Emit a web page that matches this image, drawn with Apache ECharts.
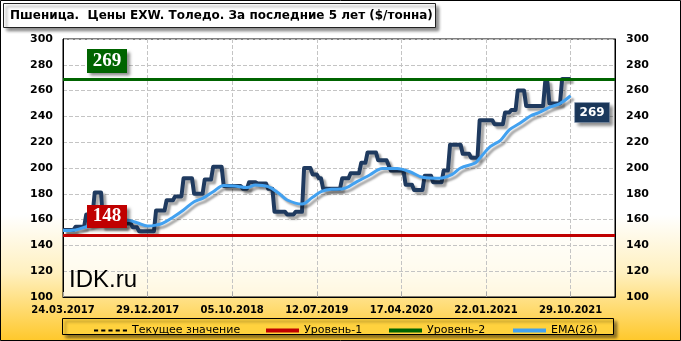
<!DOCTYPE html>
<html><head><meta charset="utf-8">
<script src="https://cdn.jsdelivr.net/npm/echarts@6/dist/echarts.min.js"></script>
<style>html,body{margin:0;padding:0;background:#fff}#c{width:681px;height:341px}</style>
</head><body><div id="c"></div>
<script>
const titleText = 'Пшеница.  Цены EXW. Толедо. За последние 5 лет ($/тонна)';
const watermark = 'IDK.ru';
const startDate = '2017-03-24';
const categoryCount = 262;
const labelEvery = 40;
const seriesNames = ['Текущее значение', 'Уровень-1', 'Уровень-2', 'EMA(26)', 'Цена'];
const level1 = 148;
const level2 = 269;
const currentValue = 269;
const priceValues = [
152,152,152,152,152,152,
154.5,154.5,154.5,154.5,154.5,
164,164,164,164,
181,181,181,181,
155,155,155,155,155,155,155,155,155,155,155,
157,157,157,
154,154,154,
151,151,151,151,151,151,151,151,
167,167,167,167,167,
175,175,175,175,
178,178,178,178,
192,192,192,192,192,
180,180,180,180,180,
191,191,191,191,
201,201,201,201,201,
186,186,186,186,186,186,186,186,186,
184,184,184,
189,189,189,189,
188,188,188,188,188,
184,184,184,
166,166,166,166,166,166,
164,164,164,164,
166,166,166,166,
200,200,200,200,
195,195,195,
192,192,
184,184,184,184,184,184,184,184,184,
192,192,192,192,
196,196,196,196,196,
204,204,204,
212,212,212,212,212,
206,206,206,206,206,
202,
198,198,198,198,198,198,198,
187,187,187,187,
183,183,183,183,183,
194,194,194,194,
189,189,189,189,189,
198,198,198,
218,218,218,218,218,218,
211,211,211,211,
208,208,208,208,
237,237,237,237,237,237,237,
234,234,234,234,234,
243,243,243,
245,245,245,
260,260,260,260,
248,248,248,248,248,248,248,248,248,
267,267,
250,250,250,250,250,250,
269,269,269,269,269
];
const emaPoints = [
[0,151.5],[6,152],[11,154.5],[16,157],[22,159],[30,159.7],[35,157.6],[40,155],[44,155.7],[47,157],
[52,161.8],[57,167.4],[62,173.9],[66,176.5],[71,181.6],[76,186.5],[81,186],[87,184.8],[91,186.8],
[97,185.5],[102,180.4],[106,175.2],[113,172],[118,177.3],[122,181.6],[127,183.5],[132,183.7],
[139,189.4],[145,194.6],[151,199.7],[158,199.7],[164,197.1],[170,192.8],[178,192],[184,195],
[188,200],[195,204],[197,207.5],[202,216.5],[207,221.7],[211,229.5],[216,234.6],[221,240.3],
[225,242.9],[230,247],[235,250],[240,256]
];

function pad(n){return n<10?'0'+n:''+n;}
const categories = [];
{
  const t0 = Date.parse(startDate + 'T00:00:00Z');
  for (let i = 0; i < categoryCount; i++) {
    const d = new Date(t0 + i * 7 * 86400000);
    categories.push(pad(d.getUTCDate()) + '.' + pad(d.getUTCMonth() + 1) + '.' + d.getUTCFullYear());
  }
}

const chart = echarts.init(document.getElementById('c'), null, {renderer: 'canvas'});
const lineShadow = {shadowColor: 'rgba(0,0,0,0.35)', shadowBlur: 2, shadowOffsetX: 3, shadowOffsetY: 3};
const axisFont = {fontFamily: 'DejaVu Sans', fontWeight: 'bold', fontSize: 11, color: '#000'};
const legendText = {fontFamily: 'DejaVu Sans', fontSize: 11, color: '#000'};
const dashIcon = 'path://M0,0h4v2h-4zM7,0h4v2h-4zM14,0h4v2h-4zM21,0h4v2h-4zM28,0h4v2h-4z';

const option = {
  animation: false,
  grid: {left: 63, top: 39, width: 552, height: 258, show: true, borderColor: '#000', borderWidth: 1, backgroundColor: 'rgba(255,255,255,0.72)'},
  xAxis: {
    type: 'category', data: categories, boundaryGap: false,
    axisLine: {show: true, lineStyle: {color: '#000'}},
    axisTick: {show: true, inside: true, interval: labelEvery - 1, length: 5, lineStyle: {color: '#aaa'}},
    axisLabel: Object.assign({}, axisFont, {fontSize: 10, interval: labelEvery - 1, margin: 8}),
    splitLine: {show: true, interval: labelEvery - 1, lineStyle: {type: 'dashed', color: '#c4c4c4'}}
  },
  yAxis: [
    {type: 'value', min: 100, max: 300, interval: 20, position: 'left',
     axisLine: {show: true, lineStyle: {color: '#000'}}, axisTick: {show: false},
     axisLabel: Object.assign({}, axisFont, {margin: 10}),
     splitLine: {show: true, lineStyle: {type: 'dashed', color: '#c4c4c4'}}},
    {type: 'value', min: 100, max: 300, interval: 20, position: 'right',
     axisLine: {show: true, lineStyle: {color: '#000'}}, axisTick: {show: false},
     axisLabel: Object.assign({}, axisFont, {margin: 11}),
     splitLine: {show: false}}
  ],
  legend: [
    {left: 89, top: 320, itemWidth: 33, itemHeight: 2, icon: dashIcon, symbolKeepAspect: false, textStyle: legendText, data: [seriesNames[0]]},
    {left: 261, top: 320, itemWidth: 33, itemHeight: 4, icon: 'rect', textStyle: legendText, data: [seriesNames[1]]},
    {left: 384, top: 320, itemWidth: 33, itemHeight: 4, icon: 'rect', textStyle: legendText, data: [seriesNames[2]]},
    {left: 508, top: 320, itemWidth: 33, itemHeight: 4, icon: 'rect', textStyle: legendText, data: [seriesNames[3]]}
  ],
  series: [
    {name: seriesNames[0], type: 'line', data: [], symbol: 'none', z: 1,
     itemStyle: {color: '#000'},
     lineStyle: {color: '#000', type: 'dashed', width: 1},
     markLine: {silent: true, symbol: 'none', label: {show: false}, animation: false,
       lineStyle: {color: '#000', type: 'dashed', width: 1}, data: [{yAxis: currentValue}]}},
    {name: seriesNames[1], type: 'line', data: [], symbol: 'none', z: 2,
     itemStyle: {color: '#c00000'},
     lineStyle: {color: '#c00000', width: 4},
     markLine: {silent: true, symbol: 'none', label: {show: false}, animation: false,
       lineStyle: {color: '#c00000', type: 'solid', width: 3}, data: [{yAxis: level1}]}},
    {name: seriesNames[2], type: 'line', data: [], symbol: 'none', z: 2,
     itemStyle: {color: '#006400'},
     lineStyle: {color: '#006400', width: 4},
     markLine: {silent: true, symbol: 'none', label: {show: false}, animation: false,
       lineStyle: {color: '#006400', type: 'solid', width: 3}, data: [{yAxis: level2}]}},
    {name: seriesNames[4], type: 'line', data: priceValues, symbol: 'none', z: 3,
     itemStyle: {color: '#1f3a5f'},
     lineStyle: Object.assign({color: '#1f3a5f', width: 4, join: 'round'}, lineShadow)},
    {name: seriesNames[3], type: 'line', data: emaPoints, symbol: 'none', smooth: 0.35, z: 4,
     itemStyle: {color: '#42a1f0'},
     lineStyle: Object.assign({color: '#42a1f0', width: 3}, lineShadow)}
  ]
};
chart.setOption(option);

const yL1 = chart.convertToPixel({yAxisIndex: 0}, level1);
const yL2 = chart.convertToPixel({yAxisIndex: 0}, level2);
const xEnd = chart.convertToPixel({xAxisIndex: 0}, priceValues.length - 1);
const boxShadow = {shadowColor: 'rgba(0,0,0,0.45)', shadowBlur: 3, shadowOffsetX: 3, shadowOffsetY: 3};

chart.setOption({
  graphic: [
    {type: 'rect', silent: true, z: -20, shape: {x: 0.5, y: 0.5, width: 680, height: 340},
     style: {fill: {type: 'linear', x: 0, y: 0, x2: 0, y2: 1, colorStops: [
       {offset: 0, color: '#ffffff'}, {offset: 0.63, color: '#ffffff'}, {offset: 0.8, color: '#fff0bf'}, {offset: 1, color: '#ffc82a'}]},
       stroke: '#000', lineWidth: 1}},
    {type: 'rect', silent: true, z: -5, shape: {x: 3.5, y: 3.5, width: 432, height: 24},
     style: Object.assign({fill: '#fff', stroke: '#222', lineWidth: 1}, boxShadow)},
    {type: 'text', silent: true, z: 10, x: 10, y: 16,
     style: {text: titleText, fill: '#000', font: 'bold 12px "DejaVu Sans"', textVerticalAlign: 'middle'}},
    {type: 'text', silent: true, z: 1, x: 69, y: 280,
     style: {text: watermark, fill: '#000', font: '24px "Liberation Sans"', textVerticalAlign: 'middle'}},
    {type: 'rect', silent: true, z: -5, shape: {x: 62.5, y: 318.5, width: 551, height: 16},
     style: Object.assign({fill: '#ffd23e', stroke: '#000', lineWidth: 1}, boxShadow)},
    {type: 'rect', silent: true, z: 20, shape: {x: 87, y: yL2 - 30, width: 40, height: 24},
     style: Object.assign({fill: '#006400'}, boxShadow)},
    {type: 'text', silent: true, z: 21, x: 107, y: yL2 - 18,
     style: {text: String(level2), fill: '#fff', font: 'bold 19px "Liberation Serif"', textAlign: 'center', textVerticalAlign: 'middle'}},
    {type: 'rect', silent: true, z: 20, shape: {x: 87, y: yL1 - 30, width: 40, height: 23},
     style: Object.assign({fill: '#c00000'}, boxShadow)},
    {type: 'text', silent: true, z: 21, x: 107, y: yL1 - 18.5,
     style: {text: String(level1), fill: '#fff', font: 'bold 19px "Liberation Serif"', textAlign: 'center', textVerticalAlign: 'middle'}},
    {type: 'rect', silent: true, z: 20, shape: {x: xEnd + 4, y: 102.5, width: 35, height: 20},
     style: Object.assign({fill: '#1c3a5e', stroke: '#8fa0b8', lineWidth: 0.5}, boxShadow)},
    {type: 'text', silent: true, z: 21, x: xEnd + 21.5, y: 113,
     style: {text: String(priceValues[priceValues.length - 1]), fill: '#fff', font: 'bold 12px "DejaVu Sans"', textAlign: 'center', textVerticalAlign: 'middle'}}
  ]
});
</script></body></html>
